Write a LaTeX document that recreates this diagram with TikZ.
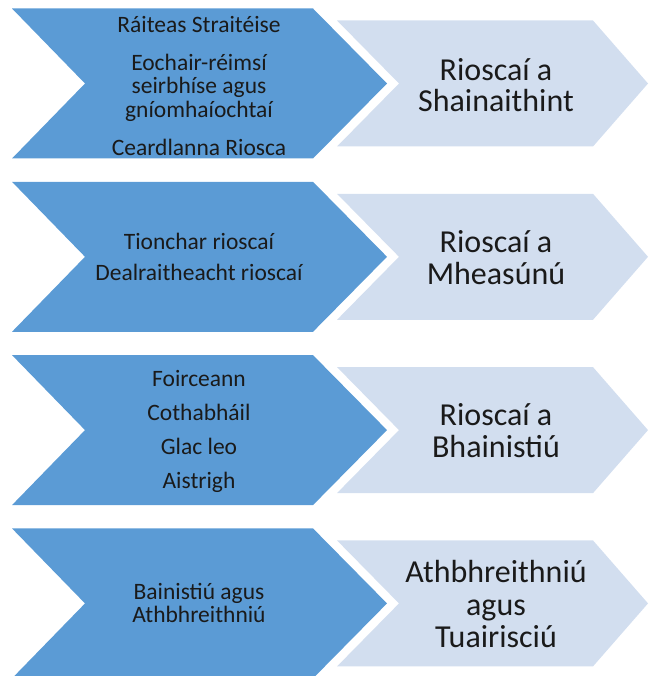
\documentclass[tikz,border=0pt]{standalone}
\usepackage{fontspec}
\setmainfont{Carlito}
\definecolor{darkchev}{HTML}{5B9BD5}
\definecolor{lightchev}{HTML}{D2DEEF}
\definecolor{txt}{HTML}{1A1A1A}
\tikzset{
  darkshape/.style={fill=darkchev, draw=none},
  lightshape/.style={fill=lightchev, draw=none},
  smalltext/.style={text=txt, align=center, inner sep=0pt, font=\fontsize{23.5}{23.5}\selectfont},
  bigtext/.style={text=txt, align=center, inner sep=0pt, font=\fontsize{32}{32}\selectfont}
}
\begin{document}
\begin{tikzpicture}[x=1pt,y=-1pt]
\useasboundingbox (0,0) rectangle (648,676);
\clip (0,0) rectangle (648,676);
\foreach \c in {83.5,256.8,430.1,603.4}{
  \path[darkshape] (12,\c-75) -- (313,\c-75) -- (387,\c) -- (313,\c+75) -- (12,\c+75) -- (85,\c) -- cycle;
  \path[lightshape] (337,\c-63) -- (593,\c-63) -- (648,\c) -- (593,\c+63) -- (337,\c+63) -- (399,\c) -- cycle;
}
\node[smalltext] (d1) at (199,86) {Ráiteas Straitéise\\[14.5pt]Eochair-réimsí\\seirbhíse agus\\gníomhaíochtaí\\[14.5pt]Ceardlanna Riosca};
\node[bigtext] (l1) at (496,85) {Rioscaí a\\[-1.5pt]Shainaithint};
\node[smalltext] (d2) at (199,257) {Tionchar rioscaí\\[7.5pt]Dealraitheacht rioscaí};
\node[bigtext] (l2) at (496,258) {Rioscaí a\\Mheasúnú};
\node[smalltext] (d3) at (199,431) {Foirceann\\[10.5pt]Cothabháil\\[10.5pt]Glac leo\\[10.5pt]Aistrigh};
\node[bigtext] (l3) at (496,431) {Rioscaí a\\Bhainistiú};
\node[smalltext] (d4) at (199,603) {Bainistiú agus\\Athbhreithniú};
\node[bigtext] (l4) at (496,604) {Athbhreithniú\\agus\\Tuairisciú};
\end{tikzpicture}
\end{document}
